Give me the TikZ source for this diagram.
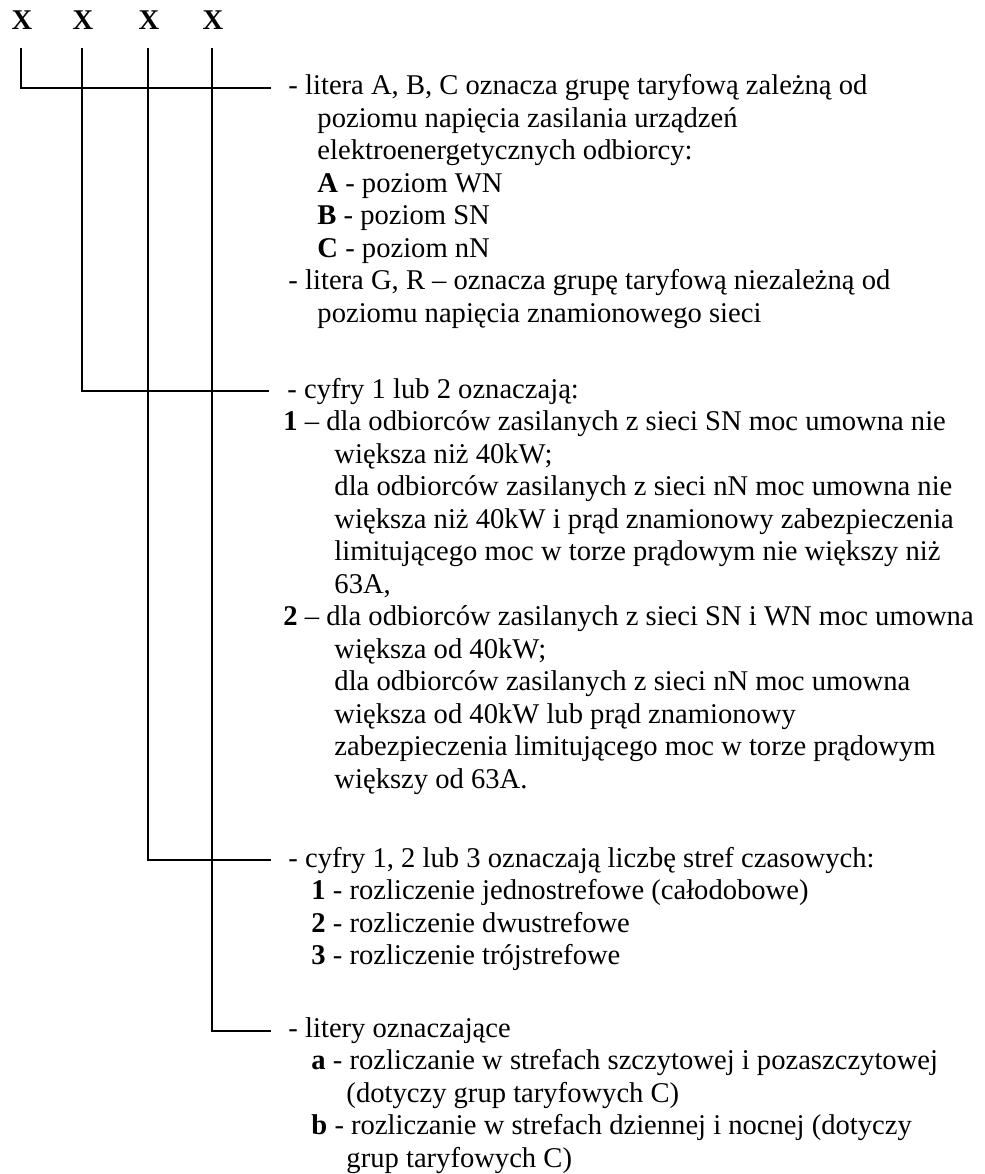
\documentclass[tikz,border=0pt]{standalone}
\usepackage{fontspec}
\setmainfont{Liberation Serif}
\begin{document}
\begin{tikzpicture}[x=0.4196pt,y=-0.4196pt,
  txt/.style={anchor=base west, inner sep=0pt, font=\fontsize{12}{14}\selectfont},
  xl/.style={anchor=base, inner sep=0pt, font=\fontsize{12}{14}\selectfont\bfseries},
  rule/.style={line width=0.8pt}]
\useasboundingbox (0,0) rectangle (985,1174);

% top letters
\node[xl] (x1) at (22,30) {X};
\node[xl] (x2) at (83,30) {X};
\node[xl] (x3) at (149,30) {X};
\node[xl] (x4) at (213,30) {X};

% connector coordinates
\coordinate (c1) at (21,48);  \coordinate (e1) at (271,88);
\coordinate (c2) at (82,48);  \coordinate (e2) at (269,391);
\coordinate (c3) at (148,48); \coordinate (e3) at (271,860);
\coordinate (c4) at (212,48); \coordinate (e4) at (271,1031);

\draw[rule] (c1) |- (e1);
\draw[rule] (c2) |- (e2);
\draw[rule] (c3) |- (e3);
\draw[rule] (c4) |- (e4);

% block 1
\node[txt] (a1) at (288,95)    {- litera A, B, C oznacza grupę taryfową zależną od};
\node[txt] (a2) at (317,127.5) {poziomu napięcia zasilania urządzeń};
\node[txt] (a3) at (317,160)   {elektroenergetycznych odbiorcy:};
\node[txt] (a4) at (317,192.5) {\textbf{A} - poziom WN};
\node[txt] (a5) at (317,225)   {\textbf{B} - poziom SN};
\node[txt] (a6) at (317,257.5) {\textbf{C} - poziom nN};
\node[txt] (a7) at (288,290)   {- litera G, R – oznacza grupę taryfową niezależną od};
\node[txt] (a8) at (317,322.5) {poziomu napięcia znamionowego sieci};

% block 2
\node[txt] (b1)  at (287,398)   {- cyfry 1 lub 2 oznaczają:};
\node[txt] (b2)  at (283,430.5) {\textbf{1} – dla odbiorców zasilanych z sieci SN moc umowna nie};
\node[txt] (b3)  at (334,463)   {większa niż 40kW;};
\node[txt] (b4)  at (334,495.5) {dla odbiorców zasilanych z sieci nN moc umowna nie};
\node[txt] (b5)  at (334,528)   {większa niż 40kW i prąd znamionowy zabezpieczenia};
\node[txt] (b6)  at (334,560.5) {limitującego moc w torze prądowym nie większy niż};
\node[txt] (b7)  at (334,593)   {63A,};
\node[txt] (b8)  at (283,625.5) {\textbf{2} – dla odbiorców zasilanych z sieci SN i WN moc umowna};
\node[txt] (b9)  at (334,658)   {większa od 40kW;};
\node[txt] (b10) at (334,690.5) {dla odbiorców zasilanych z sieci nN moc umowna};
\node[txt] (b11) at (334,723)   {większa od 40kW lub prąd znamionowy};
\node[txt] (b12) at (334,755.5) {zabezpieczenia limitującego moc w torze prądowym};
\node[txt] (b13) at (334,788)   {większy od 63A.};

% block 3
\node[txt] (c1t) at (288,867)   {- cyfry 1, 2 lub 3 oznaczają liczbę stref czasowych:};
\node[txt] (c2t) at (311,899.5) {\textbf{1} - rozliczenie jednostrefowe (całodobowe)};
\node[txt] (c3t) at (311,932)   {\textbf{2} - rozliczenie dwustrefowe};
\node[txt] (c4t) at (311,964.5) {\textbf{3} - rozliczenie trójstrefowe};

% block 4
\node[txt] (d1) at (288,1037)   {- litery oznaczające};
\node[txt] (d2) at (311,1069.5) {\textbf{a} - rozliczanie w strefach szczytowej i pozaszczytowej};
\node[txt] (d3) at (346,1102)   {(dotyczy grup taryfowych C)};
\node[txt] (d4) at (311,1134.5) {\textbf{b} - rozliczanie w strefach dziennej i nocnej (dotyczy};
\node[txt] (d5) at (346,1167)   {grup taryfowych C)};
\end{tikzpicture}
\end{document}
